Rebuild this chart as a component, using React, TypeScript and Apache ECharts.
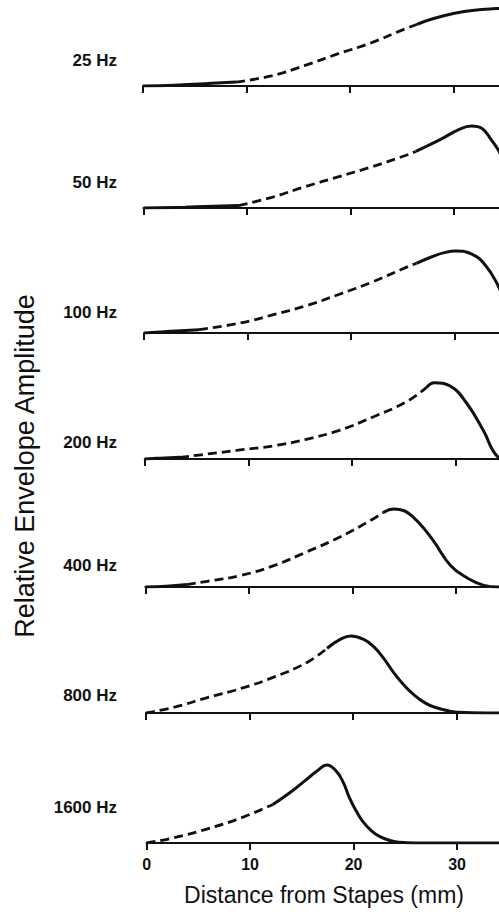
import React, { useEffect, useRef } from "react";
import * as echarts from "echarts";

// Panel labels (top to bottom)
const frequencyLabels = ["25 Hz", "50 Hz", "100 Hz", "200 Hz", "400 Hz", "800 Hz", "1600 Hz"];
const xTickValues = [0, 10, 20, 30];
const xAxisTitle = "Distance from Stapes (mm)";
const yAxisTitle = "Relative Envelope Amplitude";

// Distance (mm) and relative envelope amplitude for each frequency
const x25 = [0, 3, 6, 9, 12.4, 15.6, 18.8, 22, 25.3, 26.5, 28, 30.1, 32, 34.1, 36];
const y25 = [0, 0.01, 0.03, 0.05, 0.13, 0.26, 0.41, 0.55, 0.73, 0.79, 0.86, 0.93, 0.97, 0.99, 1.0];

const x50 = [0, 4, 9.2, 12.4, 15.6, 18.8, 22, 25.3, 26.3, 28.6, 30.5, 31.7, 32.7, 33.6, 34.3, 35, 36];
const y50 = [0, 0.01, 0.03, 0.13, 0.26, 0.38, 0.5, 0.64, 0.69, 0.83, 0.96, 1.0, 0.97, 0.83, 0.7, 0.5, 0.3];

const x100 = [0, 2.5, 5.3, 9.2, 12.4, 15.6, 18.8, 22, 25.3, 26.3, 27.8, 29, 30.1, 31.7, 33, 34.1, 35, 36];
const y100 = [0, 0.02, 0.04, 0.12, 0.22, 0.33, 0.47, 0.62, 0.8, 0.85, 0.93, 0.98, 1.0, 0.96, 0.82, 0.6, 0.35, 0.15];

const x200 = [0, 1.5, 3.4, 6, 9.2, 12.4, 15.6, 18.8, 22, 25.3, 27.2, 28, 29.5, 31.1, 32.7, 34, 35, 36];
const y200 = [0, 0.01, 0.02, 0.06, 0.11, 0.16, 0.24, 0.35, 0.51, 0.7, 0.87, 0.93, 0.89, 0.68, 0.35, 0.04, 0, 0];

const x400 = [0, 2, 4, 6.5, 9.2, 12.4, 15.6, 18.8, 22, 23, 24, 25, 25.9, 27, 27.9, 29.5, 31.1, 32.7, 34.1, 36];
const y400 = [0, 0.01, 0.03, 0.08, 0.14, 0.26, 0.43, 0.61, 0.83, 0.91, 0.95, 0.93, 0.85, 0.7, 0.55, 0.26, 0.11, 0.02, 0, 0];

const x800 = [0, 2.7, 6, 9.2, 12.4, 15.6, 17.5, 18.8, 19.8, 21, 22, 23, 24, 25, 25.9, 27, 27.9, 30.1, 33, 36];
const y800 = [0, 0.07, 0.19, 0.3, 0.44, 0.62, 0.79, 0.9, 0.94, 0.9, 0.81, 0.66, 0.48, 0.33, 0.22, 0.12, 0.07, 0.01, 0, 0];

const x1600 = [0, 2.5, 5.8, 9, 12.2, 13.8, 15.4, 16.5, 17.4, 18.3, 19, 19.6, 20.3, 20.9, 21.7, 22.5, 23.5, 24.4, 26, 36];
const y1600 = [0, 0.06, 0.17, 0.3, 0.47, 0.61, 0.77, 0.88, 0.95, 0.88, 0.74, 0.55, 0.38, 0.26, 0.15, 0.08, 0.03, 0.01, 0, 0];

// Dashed (extrapolated) part of each curve: [start mm, end mm]
const dashStart = [9, 9.2, 5.3, 3.4, 4, 0, 0];
const dashEnd = [26.5, 26.3, 26.3, 27.2, 23, 17.5, 12.2];

const curvesX = [x25, x50, x100, x200, x400, x800, x1600];
const curvesY = [y25, y50, y100, y200, y400, y800, y1600];

// Layout
const BASELINES = [86, 208, 333, 459, 587, 713, 843];
const LABEL_Y = [60, 182, 312, 442, 565, 695, 807];
const X_MAX = 36;
const PX_PER_MM = 10.35;
const Y_MAX = 1.1;
const UNIT_PX = 82;
const INK = "#111";
const FONT = "'Liberation Sans', Arial, Helvetica, sans-serif";

export default function App() {
  const ref = useRef<HTMLDivElement>(null);

  useEffect(() => {
    if (!ref.current) return;
    const chart = echarts.init(ref.current, undefined, { renderer: "svg" });
    const gridHeight = Y_MAX * UNIT_PX;
    const grids: any[] = [];
    const xAxes: any[] = [];
    const yAxes: any[] = [];
    const series: any[] = [];
    const last = BASELINES.length - 1;

    BASELINES.forEach((base, i) => {
      grids.push({
        left: 143 + i * 0.6,
        top: base - gridHeight,
        width: X_MAX * PX_PER_MM,
        height: gridHeight,
        containLabel: false,
      });
      xAxes.push({
        type: "value",
        gridIndex: i,
        min: 0,
        max: X_MAX,
        interval: 10,
        axisLine: { show: true, lineStyle: { color: INK, width: 2.2 } },
        axisTick: { show: true, length: 7, lineStyle: { color: INK, width: 2 } },
        splitLine: { show: false },
        axisLabel: {
          show: i === last,
          color: INK,
          fontSize: 16,
          fontWeight: "bold",
          fontFamily: FONT,
          margin: 13,
          formatter: (v: number) => (xTickValues.includes(v) ? String(v) : ""),
        },
      });
      yAxes.push({
        type: "value",
        gridIndex: i,
        min: 0,
        max: Y_MAX,
        show: false,
        splitLine: { show: false },
      });

      const pts = curvesX[i].map((x, k) => [x, curvesY[i][k]]);
      const ds = dashStart[i];
      const de = dashEnd[i];
      const segA = pts.filter((p) => p[0] <= ds);
      const segD = pts.filter((p) => p[0] >= ds && p[0] <= de);
      const segB = pts.filter((p) => p[0] >= de);
      const base_s = {
        type: "line",
        xAxisIndex: i,
        yAxisIndex: i,
        showSymbol: false,
        symbol: "none",
        smooth: 0.45,
        silent: true,
      };
      if (segA.length > 1)
        series.push({ ...base_s, data: segA, lineStyle: { color: INK, width: 3 } });
      series.push({ ...base_s, data: segD, lineStyle: { color: INK, width: 2.8, type: [9, 5] } });
      series.push({ ...base_s, data: segB, lineStyle: { color: INK, width: 3 } });
    });

    const graphics: any[] = frequencyLabels.map((t, i) => ({
      type: "text",
      x: 117,
      y: LABEL_Y[i],
      style: {
        text: t,
        fill: INK,
        fontSize: 17,
        fontWeight: "bold",
        fontFamily: FONT,
        align: "right",
        verticalAlign: "middle",
      },
    }));
    graphics.push({
      type: "text",
      x: 324,
      y: 895,
      style: {
        text: xAxisTitle,
        fill: INK,
        fontSize: 23,
        fontFamily: FONT,
        align: "center",
        verticalAlign: "middle",
      },
    });
    graphics.push({
      type: "text",
      x: 25,
      y: 466,
      rotation: Math.PI / 2,
      style: {
        text: yAxisTitle,
        fill: INK,
        fontSize: 27,
        fontFamily: FONT,
        align: "center",
        verticalAlign: "middle",
      },
    });

    chart.setOption({
      animation: false,
      backgroundColor: "#fff",
      grid: grids,
      xAxis: xAxes,
      yAxis: yAxes,
      series,
      graphic: graphics,
    });
    return () => chart.dispose();
  }, []);

  return (
    <div
      style={{
        position: "fixed",
        left: 0,
        top: 0,
        width: 499,
        height: 923,
        overflow: "hidden",
        background: "#fff",
      }}
    >
      <div ref={ref} style={{ width: 560, height: 923 }} />
    </div>
  );
}
